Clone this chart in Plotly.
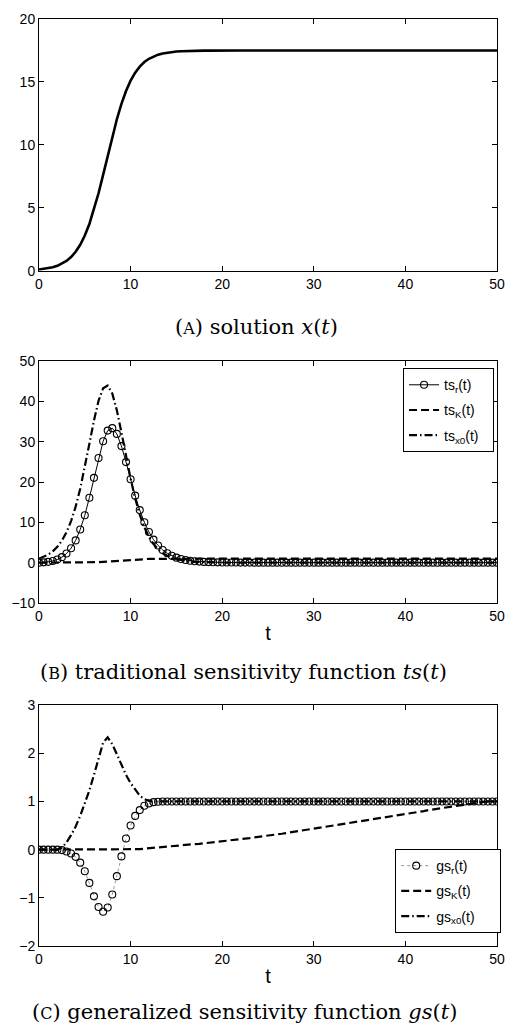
import plotly.graph_objects as go

# time grid (step 0.5)
t = [0.0, 0.5, 1.0, 1.5, 2.0, 2.5, 3.0, 3.5, 4.0, 4.5,
     5.0, 5.5, 6.0, 6.5, 7.0, 7.5, 8.0, 8.5, 9.0, 9.5,
     10.0, 10.5, 11.0, 11.5, 12.0, 12.5, 13.0, 13.5, 14.0, 14.5,
     15.0, 15.5, 16.0, 16.5, 17.0, 17.5, 18.0, 18.5, 19.0, 19.5,
     20.0, 20.5, 21.0, 21.5, 22.0, 22.5, 23.0, 23.5, 24.0, 24.5,
     25.0, 25.5, 26.0, 26.5, 27.0, 27.5, 28.0, 28.5, 29.0, 29.5,
     30.0, 30.5, 31.0, 31.5, 32.0, 32.5, 33.0, 33.5, 34.0, 34.5,
     35.0, 35.5, 36.0, 36.5, 37.0, 37.5, 38.0, 38.5, 39.0, 39.5,
     40.0, 40.5, 41.0, 41.5, 42.0, 42.5, 43.0, 43.5, 44.0, 44.5,
     45.0, 45.5, 46.0, 46.5, 47.0, 47.5, 48.0, 48.5, 49.0, 49.5,
     50.0]

# (A) solution x(t)
x_sol = [0.10, 0.14, 0.20, 0.28, 0.40, 0.56, 0.78, 1.09, 1.51, 2.07,
         2.80, 3.72, 4.85, 6.16, 7.62, 9.15, 10.65, 12.04, 13.26, 14.28,
         15.10, 15.74, 16.22, 16.58, 16.84, 17.03, 17.17, 17.26, 17.33, 17.38,
         17.42, 17.44, 17.46, 17.47, 17.48, 17.49, 17.49, 17.49, 17.50, 17.50,
         17.5, 17.5, 17.5, 17.5, 17.5, 17.5, 17.5, 17.5, 17.5, 17.5,
         17.5, 17.5, 17.5, 17.5, 17.5, 17.5, 17.5, 17.5, 17.5, 17.5,
         17.5, 17.5, 17.5, 17.5, 17.5, 17.5, 17.5, 17.5, 17.5, 17.5,
         17.5, 17.5, 17.5, 17.5, 17.5, 17.5, 17.5, 17.5, 17.5, 17.5,
         17.5, 17.5, 17.5, 17.5, 17.5, 17.5, 17.5, 17.5, 17.5, 17.5,
         17.5, 17.5, 17.5, 17.5, 17.5, 17.5, 17.5, 17.5, 17.5, 17.5,
         17.5]

# (B) traditional sensitivity functions
ts_r = [0.00, 0.07, 0.20, 0.42, 0.78, 1.36, 2.25, 3.58, 5.52, 8.21,
        11.75, 16.11, 21.03, 25.95, 30.11, 32.75, 33.36, 31.93, 28.90, 24.94,
        20.69, 16.62, 13.03, 10.03, 7.61, 5.71, 4.26, 3.14, 2.32, 1.70,
        1.24, 0.91, 0.67, 0.48, 0.35, 0.26, 0.19, 0.14, 0.10, 0.07,
        0.05, 0.04, 0.03, 0.02, 0.01, 0.01, 0.01, 0.00, 0.00, 0.00,
        0.00, 0.00, 0.00, 0.00, 0.00, 0.00, 0.00, 0.00, 0.00, 0.00,
        0.00, 0.00, 0.00, 0.00, 0.00, 0.00, 0.00, 0.00, 0.00, 0.00,
        0.00, 0.00, 0.00, 0.00, 0.00, 0.00, 0.00, 0.00, 0.00, 0.00,
        0.00, 0.00, 0.00, 0.00, 0.00, 0.00, 0.00, 0.00, 0.00, 0.00,
        0.00, 0.00, 0.00, 0.00, 0.00, 0.00, 0.00, 0.00, 0.00, 0.00,
        0.00]

ts_K = [0.00, 0.00, 0.00, 0.00, 0.00, 0.00, 0.00, 0.00, 0.01, 0.01,
        0.02, 0.04, 0.08, 0.12, 0.19, 0.27, 0.37, 0.47, 0.57, 0.67,
        0.74, 0.81, 0.86, 0.90, 0.93, 0.95, 0.96, 0.97, 0.98, 0.99,
        0.99, 0.99, 1.00, 1.00, 1.00, 1.00, 1.00, 1.00, 1.00, 1.00,
        1.00, 1.00, 1.00, 1.00, 1.00, 1.00, 1.00, 1.00, 1.00, 1.00,
        1.00, 1.00, 1.00, 1.00, 1.00, 1.00, 1.00, 1.00, 1.00, 1.00,
        1.00, 1.00, 1.00, 1.00, 1.00, 1.00, 1.00, 1.00, 1.00, 1.00,
        1.00, 1.00, 1.00, 1.00, 1.00, 1.00, 1.00, 1.00, 1.00, 1.00,
        1.00, 1.00, 1.00, 1.00, 1.00, 1.00, 1.00, 1.00, 1.00, 1.00,
        1.00, 1.00, 1.00, 1.00, 1.00, 1.00, 1.00, 1.00, 1.00, 1.00,
        1.00]

ts_x0 = [1.00, 1.41, 1.99, 2.80, 3.92, 5.45, 7.53, 10.30, 13.89, 18.35,
         23.64, 29.47, 35.25, 40.16, 43.27, 43.91, 41.94, 37.77, 32.29, 26.41,
         20.81, 15.92, 11.92, 8.77, 6.38, 4.60, 3.30, 2.34, 1.66, 1.18,
         0.83, 0.59, 0.42, 0.29, 0.21, 0.15, 0.10, 0.07, 0.05, 0.04,
         0.03, 0.02, 0.01, 0.01, 0.01, 0.00, 0.00, 0.00, 0.00, 0.00,
         0.00, 0.00, 0.00, 0.00, 0.00, 0.00, 0.00, 0.00, 0.00, 0.00,
         0.00, 0.00, 0.00, 0.00, 0.00, 0.00, 0.00, 0.00, 0.00, 0.00,
         0.00, 0.00, 0.00, 0.00, 0.00, 0.00, 0.00, 0.00, 0.00, 0.00,
         0.00, 0.00, 0.00, 0.00, 0.00, 0.00, 0.00, 0.00, 0.00, 0.00,
         0.00, 0.00, 0.00, 0.00, 0.00, 0.00, 0.00, 0.00, 0.00, 0.00,
         0.00]

# (C) generalized sensitivity functions
gs_r = [0.00, 0.00, 0.00, 0.00, 0.00, -0.01, -0.04, -0.08, -0.15, -0.27,
        -0.45, -0.69, -0.97, -1.19, -1.29, -1.20, -0.93, -0.55, -0.14, 0.23,
        0.50, 0.70, 0.82, 0.91, 0.96, 0.985, 0.995, 1.00, 1.00, 1.00,
        1.00, 1.00, 1.00, 1.00, 1.00, 1.00, 1.00, 1.00, 1.00, 1.00,
        1.00, 1.00, 1.00, 1.00, 1.00, 1.00, 1.00, 1.00, 1.00, 1.00,
        1.00, 1.00, 1.00, 1.00, 1.00, 1.00, 1.00, 1.00, 1.00, 1.00,
        1.00, 1.00, 1.00, 1.00, 1.00, 1.00, 1.00, 1.00, 1.00, 1.00,
        1.00, 1.00, 1.00, 1.00, 1.00, 1.00, 1.00, 1.00, 1.00, 1.00,
        1.00, 1.00, 1.00, 1.00, 1.00, 1.00, 1.00, 1.00, 1.00, 1.00,
        1.00, 1.00, 1.00, 1.00, 1.00, 1.00, 1.00, 1.00, 1.00, 1.00,
        1.00]

gs_K = [0.00, 0.00, 0.00, 0.00, 0.00, 0.00, 0.00, 0.00, 0.00, 0.00,
        0.00, 0.00, 0.00, 0.00, 0.00, 0.00, 0.00, 0.00, 0.00, 0.00,
        0.00, 0.005, 0.01, 0.02, 0.03, 0.04, 0.05, 0.06, 0.07, 0.08,
        0.085, 0.09, 0.10, 0.11, 0.115, 0.12, 0.13, 0.14, 0.145, 0.155,
        0.17, 0.18, 0.19, 0.205, 0.215, 0.23, 0.24, 0.255, 0.265, 0.28,
        0.29, 0.30, 0.315, 0.33, 0.345, 0.36, 0.37, 0.385, 0.40, 0.415,
        0.43, 0.445, 0.46, 0.475, 0.49, 0.505, 0.52, 0.535, 0.55, 0.565,
        0.58, 0.595, 0.61, 0.625, 0.64, 0.655, 0.67, 0.685, 0.70, 0.72,
        0.735, 0.75, 0.77, 0.785, 0.80, 0.82, 0.835, 0.85, 0.87, 0.885,
        0.90, 0.915, 0.93, 0.945, 0.96, 0.97, 0.98, 0.99, 0.995, 1.00,
        1.00]

gs_x0 = [0.00, 0.00, 0.00, 0.00, 0.00, 0.04, 0.15, 0.30, 0.48, 0.70,
         0.95, 1.23, 1.55, 1.90, 2.22, 2.33, 2.19, 1.98, 1.76, 1.55,
         1.38, 1.24, 1.12, 1.05, 1.01, 1.00, 1.00, 1.00, 1.00, 1.00,
         1.00, 1.00, 1.00, 1.00, 1.00, 1.00, 1.00, 1.00, 1.00, 1.00,
         1.00, 1.00, 1.00, 1.00, 1.00, 1.00, 1.00, 1.00, 1.00, 1.00,
         1.00, 1.00, 1.00, 1.00, 1.00, 1.00, 1.00, 1.00, 1.00, 1.00,
         1.00, 1.00, 1.00, 1.00, 1.00, 1.00, 1.00, 1.00, 1.00, 1.00,
         1.00, 1.00, 1.00, 1.00, 1.00, 1.00, 1.00, 1.00, 1.00, 1.00,
         1.00, 1.00, 1.00, 1.00, 1.00, 1.00, 1.00, 1.00, 1.00, 1.00,
         1.00, 1.00, 1.00, 1.00, 1.00, 1.00, 1.00, 1.00, 1.00, 1.00,
         1.00]

x_ticks = [0, 10, 20, 30, 40, 50]
yA_ticks = [0, 5, 10, 15, 20]
yB_ticks = [-10, 0, 10, 20, 30, 40, 50]
yC_ticks = [-2, -1, 0, 1, 2, 3]

SANS = "Liberation Sans, Arial, Helvetica, sans-serif"
SERIF = "DejaVu Serif, serif"

W, H = 516, 1026
ML, MR, MT, MB = 35, 14, 11, 80
PH = H - MT - MB


def ydom(top_px, bottom_px):
    return [(H - MB - bottom_px) / PH, (H - MB - top_px) / PH]


def px_x(px):
    return (px - ML) / (W - ML - MR)


def px_y(py):
    return (H - MB - py) / PH


DASH = "8px,4px"
DASHDOT = "8px,3px,1.5px,3px"
NB = "\u00a0"

fig = go.Figure()

# Panel A
fig.add_trace(go.Scatter(x=t, y=x_sol, mode="lines", showlegend=False,
                         line=dict(color="black", width=2.6),
                         xaxis="x", yaxis="y"))

# Panel B
fig.add_trace(go.Scatter(x=t, y=ts_r, mode="lines+markers",
                         name="ts<sub>r</sub>(t)" + NB * 4,
                         legendgroup="b1",
                         line=dict(color="black", width=1),
                         marker=dict(symbol="circle-open", size=7, color="black",
                                     line=dict(width=1.1)),
                         xaxis="x2", yaxis="y2", legend="legend"))
fig.add_trace(go.Scatter(x=t, y=ts_K, mode="lines", name="ts<sub>K</sub>(t)",
                         legendgroup="b2",
                         line=dict(color="black", width=2.2, dash=DASH),
                         xaxis="x2", yaxis="y2", legend="legend"))
fig.add_trace(go.Scatter(x=t, y=ts_x0, mode="lines", name="ts<sub>x0</sub>(t)",
                         legendgroup="b3",
                         line=dict(color="black", width=2.2, dash=DASHDOT),
                         xaxis="x2", yaxis="y2", legend="legend"))

# Panel C
fig.add_trace(go.Scatter(x=t, y=gs_r, mode="lines+markers",
                         name="gs<sub>r</sub>(t)" + NB * 7,
                         legendgroup="c1",
                         line=dict(color="#777777", width=0.8, dash="dot"),
                         marker=dict(symbol="circle-open", size=7, color="black",
                                     line=dict(width=1.1)),
                         xaxis="x3", yaxis="y3", legend="legend2"))
fig.add_trace(go.Scatter(x=t, y=gs_K, mode="lines", name="gs<sub>K</sub>(t)",
                         legendgroup="c2",
                         line=dict(color="black", width=2.2, dash=DASH),
                         xaxis="x3", yaxis="y3", legend="legend2"))
fig.add_trace(go.Scatter(x=t, y=gs_x0, mode="lines", name="gs<sub>x0</sub>(t)",
                         legendgroup="c3",
                         line=dict(color="black", width=2.2, dash=DASHDOT),
                         xaxis="x3", yaxis="y3", legend="legend2"))

axis_common = dict(showline=True, linecolor="black", linewidth=1, mirror="ticks",
                   ticks="inside", ticklen=5, tickcolor="black", tickwidth=1,
                   showgrid=False, zeroline=False,
                   tickfont=dict(family=SANS, size=14, color="black"))

legend_common = dict(xanchor="left", yanchor="top", bgcolor="white",
                     bordercolor="black", borderwidth=1.2, tracegroupgap=4,
                     font=dict(family=SANS, size=14, color="black"), itemwidth=30)

fig.update_layout(
    width=W, height=H,
    margin=dict(l=ML, r=MR, t=MT, b=MB),
    paper_bgcolor="white", plot_bgcolor="white",
    font=dict(family=SANS, color="black"),
    xaxis=dict(domain=[0, 1], range=[0, 50], tickvals=x_ticks, anchor="y", **axis_common),
    yaxis=dict(domain=ydom(11, 265), range=[0, 20], tickvals=yA_ticks, anchor="x", **axis_common),
    xaxis2=dict(domain=[0, 1], range=[0, 50], tickvals=x_ticks, anchor="y2",
                title=dict(text="t", font=dict(family=SANS, size=20), standoff=3), **axis_common),
    yaxis2=dict(domain=ydom(356, 600), range=[-10, 50], tickvals=yB_ticks, anchor="x2", **axis_common),
    xaxis3=dict(domain=[0, 1], range=[0, 50], tickvals=x_ticks, anchor="y3",
                title=dict(text="t", font=dict(family=SANS, size=20), standoff=3), **axis_common),
    yaxis3=dict(domain=ydom(703, 946), range=[-2, 3], tickvals=yC_ticks, anchor="x3", **axis_common),
    legend=dict(x=px_x(406), y=px_y(363), **legend_common),
    legend2=dict(x=px_x(398), y=px_y(848), **legend_common),
)

captions = [
    (257, 322, "(<span style='font-size:16px'>A</span>) solution <i>x</i>(<i>t</i>)"),
    (244, 670, "(<span style='font-size:16px'>B</span>) traditional sensitivity function <i>ts</i>(<i>t</i>)"),
    (245, 1013, "(<span style='font-size:16px'>C</span>) generalized sensitivity function <i>gs</i>(<i>t</i>)"),
]
for cx, cy, txt in captions:
    fig.add_annotation(x=px_x(cx), y=px_y(cy), xref="paper", yref="paper",
                       text=txt, showarrow=False, xanchor="center", yanchor="middle",
                       font=dict(family=SERIF, size=21, color="black"))

fig.write_html("out.html")
